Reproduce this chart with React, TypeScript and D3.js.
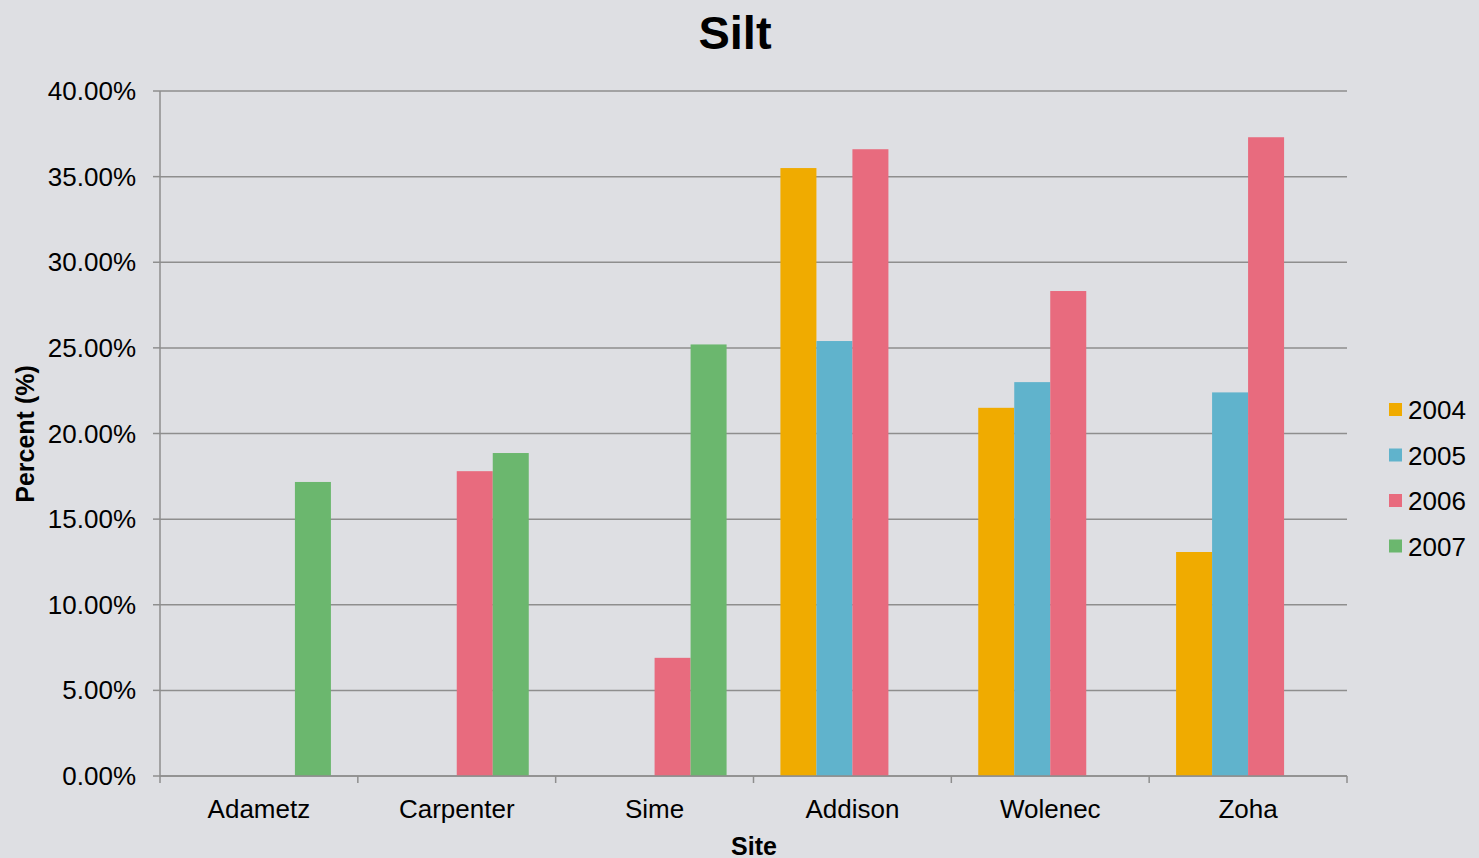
import React from "react";
import * as d3 from "d3";

const sites = ["Adametz", "Carpenter", "Sime", "Addison", "Wolenec", "Zoha"];
const years = ["2004", "2005", "2006", "2007"];
const colors = ["#F0AB00", "#60B3CC", "#E86B7E", "#6BB76E"];
const v2004 = [null, null, null, 35.5, 21.5, 13.08];
const v2005 = [null, null, null, 25.4, 23.0, 22.4];
const v2006 = [null, 17.8, 6.9, 36.6, 28.32, 37.3];
const v2007 = [17.17, 18.86, 25.2, null, null, null];
const yTicks = [0, 5, 10, 15, 20, 25, 30, 35, 40];

const series = [v2004, v2005, v2006, v2007];

export default function App() {
  const W = 1479, H = 858;
  const left = 160, right = 1347, top = 91, bottom = 776;
  const x = d3.scaleBand<string>().domain(sites).range([left, right]).paddingInner(0).paddingOuter(0);
  const inner = d3.scaleBand<string>().domain(years).range([0, 144]);
  const y = d3.scaleLinear().domain([0, 40]).range([bottom, top]);
  const font = "'Liberation Sans', Arial, sans-serif";
  const bw = x.bandwidth();
  return (
    <svg width={W} height={H} style={{ position: "absolute", left: 0, top: 0, background: "#DEDFE3", fontFamily: font }}>
      <rect x={0} y={0} width={W} height={H} fill="#DEDFE3" />
      <text x={735} y={49} textAnchor="middle" fontSize={47} fontWeight="bold" fill="#000">Silt</text>
      {yTicks.map((t) => (
        <g key={t}>
          <line x1={left} x2={right} y1={y(t)} y2={y(t)} stroke="#8E8E8E" strokeWidth={1.5} />
          <line x1={left - 7} x2={left} y1={y(t)} y2={y(t)} stroke="#8E8E8E" strokeWidth={1.5} />
          <text x={136} y={y(t) + 9} textAnchor="end" fontSize={26} fill="#000">{t.toFixed(2)}%</text>
        </g>
      ))}
      {series.map((s, si) =>
        s.map((v, ci) =>
          v == null ? null : (
            <rect key={`${si}-${ci}`} x={x(sites[ci])! + (bw - 144) / 2 + inner(years[si])!} y={y(v)} width={inner.bandwidth()} height={y(0) - y(v)} fill={colors[si]} />
          )
        )
      )}
      <line x1={left} x2={left} y1={top} y2={bottom} stroke="#8E8E8E" strokeWidth={1.5} />
      <line x1={left} x2={right} y1={bottom} y2={bottom} stroke="#8E8E8E" strokeWidth={1.5} />
      {sites.concat([""]).map((s, i) => {
        const xx = left + i * bw;
        return <line key={"t" + i} x1={xx} x2={xx} y1={bottom} y2={bottom + 7} stroke="#8E8E8E" strokeWidth={1.5} />;
      })}
      {sites.map((s) => (
        <text key={s} x={x(s)! + bw / 2} y={818} textAnchor="middle" fontSize={26} fill="#000">{s}</text>
      ))}
      <text x={754} y={855} textAnchor="middle" fontSize={25} fontWeight="bold" fill="#000">Site</text>
      <text transform={`translate(34,434) rotate(-90)`} textAnchor="middle" fontSize={25} fontWeight="bold" fill="#000">Percent (%)</text>
      {years.map((yr, i) => (
        <g key={yr}>
          <rect x={1389} y={403 + i * 45.5} width={13} height={13} fill={colors[i]} />
          <text x={1408} y={419 + i * 45.5} fontSize={26} fill="#000">{yr}</text>
        </g>
      ))}
    </svg>
  );
}
